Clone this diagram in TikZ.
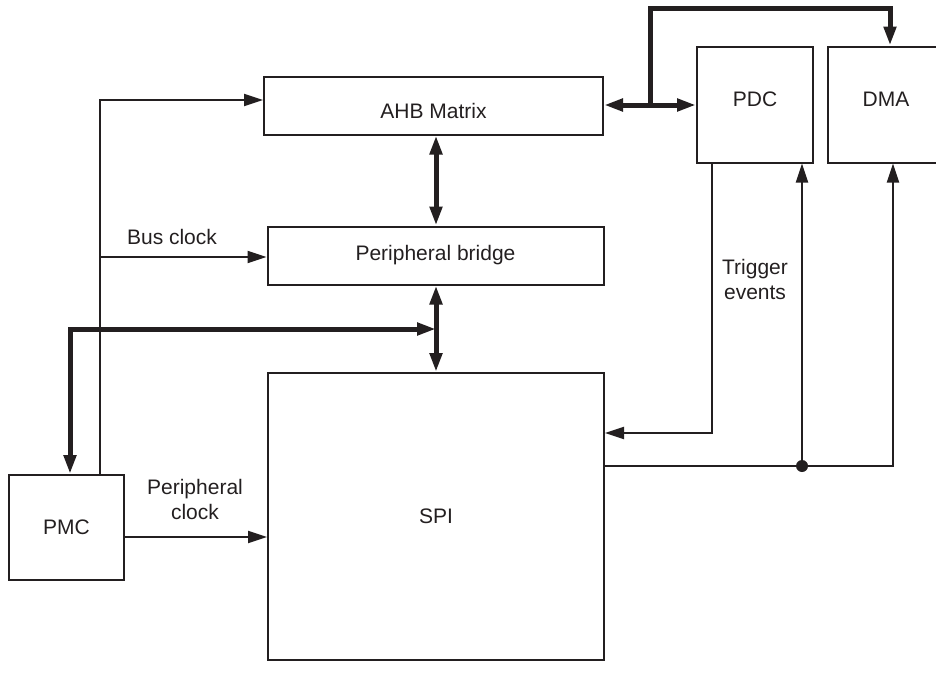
\documentclass[tikz,border=0pt]{standalone}
\usepackage{fontspec}
\setmainfont{Liberation Sans}
\usetikzlibrary{arrows.meta}
\definecolor{ink}{RGB}{35,31,32}
\begin{document}
\begin{tikzpicture}[x=1pt,y=-1pt,
  blk/.style={draw=ink,line width=2pt,minimum width=#1,inner sep=0pt,font=\fontsize{21}{25}\selectfont,text=ink},
  thin/.style={draw=ink,line width=2pt},
  thick/.style={draw=ink,line width=5pt},
  tip/.tip={Triangle[length=19pt,width=12pt]},
  lbl/.style={font=\fontsize{21}{25}\selectfont,text=ink,align=center,inner sep=0pt}]
\useasboundingbox (0,0) rectangle (936,688);
% blocks
\node[blk=339pt,minimum height=58pt] (ahb) at (433.5,105.5) {\raisebox{-5pt}[\height][\depth]{AHB Matrix}};
\node[blk=336pt,minimum height=58pt] (brg) at (435.5,255.5) {Peripheral bridge};
\node[blk=336pt,minimum height=287pt] (spi) at (436,516.5) {SPI};
\node[blk=115pt,minimum height=105pt] (pmc) at (66.5,527.5) {PMC};
\node[blk=116pt,minimum height=116pt] (pdc) at (755,104.5) {\raisebox{5pt}[\height][\depth]{PDC}};
\node[blk=116pt,minimum height=116pt] (dma) at (886,104.5) {\raisebox{5pt}[\height][\depth]{DMA}};
% coordinates
\coordinate (br) at (650,105);
\coordinate (tr) at (890,8);
\coordinate (bv) at (436,329);
\coordinate (thk) at (70,329);
\coordinate (clk) at (100,100);
\coordinate (bus) at (100,257);
\coordinate (trg) at (712,433);
\coordinate (irq) at (893,466);
\coordinate (dot) at (802,466);
% thick buses
\draw[thick,tip-tip] (ahb.east |- br) -- (pdc.west |- br);
\draw[thick,-tip] (br) |- (tr) -- (tr |- dma.north);
\draw[thick,tip-tip] (ahb.south -| bv) -- (brg.north -| bv);
\draw[thick,tip-tip] (brg.south -| bv) -- (spi.north -| bv);
\draw[thick,tip-tip] (pmc.north -| thk) -- (thk) -- (bv);
% clocks
\draw[thin,-tip] (pmc.north -| clk) -- (clk) -- (ahb.west |- clk);
\draw[thin,-tip] (bus) -- (brg.west |- bus);
\draw[thin,-tip] (pmc.east |- 0,537) -- (spi.west |- 0,537);
% triggers
\draw[thin,-tip] (pdc.south -| trg) -- (trg) -- (spi.east |- trg);
\draw[thin,-tip] (spi.east |- irq) -- (irq) -- (dma.south -| irq);
\draw[thin,-tip] (dot) -- (pdc.south -| dot);
\fill[ink] (dot) circle (6pt);
% labels
\node[lbl] (lbus) at (172,237) {Bus clock};
\node[lbl] (lper) at (195,499) {Peripheral\\clock};
\node[lbl] (ltrg) at (755,279) {Trigger\\events};
\end{tikzpicture}
\end{document}
